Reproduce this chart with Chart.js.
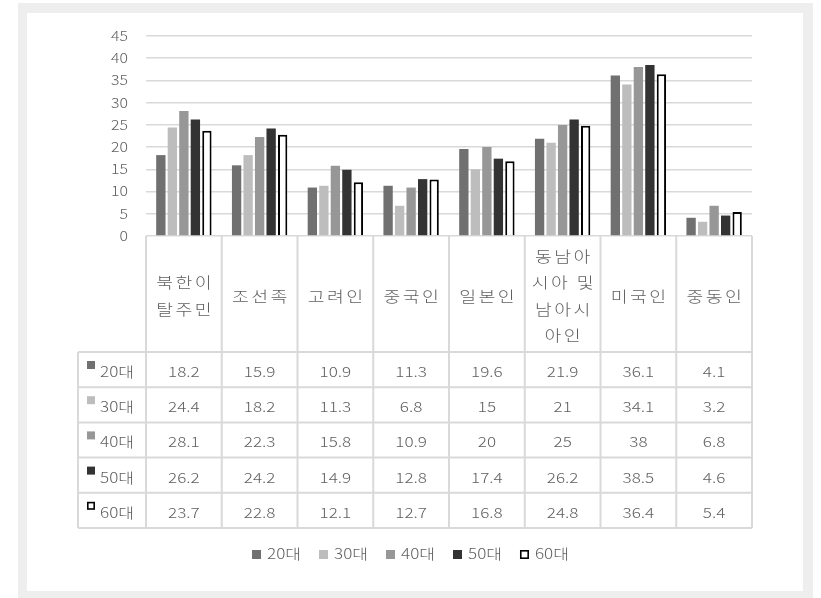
<!DOCTYPE html>
<html>
<head>
<meta charset="utf-8">
<script src="https://cdn.jsdelivr.net/npm/chart.js@4"></script>
<style>
  html, body { margin: 0; padding: 0; background: #fff; overflow: hidden; }
  #frame { position: absolute; left: 18px; top: 3px; width: 795px; height: 600px; background: #eeeeee; }
  #inner { position: absolute; left: 27px; top: 13px; width: 776px; height: 578px; background: #fff; }
  #wrap { position: absolute; left: 0; top: 0; width: 821px; height: 598px; }
</style>
</head>
<body>
<div id="frame"></div>
<div id="inner"></div>
<div id="wrap"><canvas id="ageChart" width="821" height="598"></canvas></div>
<script>
// Categories (multi-line labels as shown in the table header)
const categories = [
    ['북한이', '탈주민'],
    ['조선족'],
    ['고려인'],
    ['중국인'],
    ['일본인'],
    ['동남아', '시아 및', '남아시', '아인'],
    ['미국인'],
    ['중동인']
];

const seriesLabels = ['20대', '30대', '40대', '50대', '60대'];
const seriesColors = ['#707070', '#bdbdbd', '#979797', '#333333', '#ffffff'];

const age20 = [18.2, 15.9, 10.9, 11.3, 19.6, 21.9, 36.1, 4.1];
const age30 = [24.4, 18.2, 11.3, 6.8, 15, 21, 34.1, 3.2];
const age40 = [28.1, 22.3, 15.8, 10.9, 20, 25, 38, 6.8];
const age50 = [26.2, 24.2, 14.9, 12.8, 17.4, 26.2, 38.5, 4.6];
const age60 = [23.7, 22.8, 12.1, 12.7, 16.8, 24.8, 36.4, 5.4];

const seriesValues = [age20, age30, age40, age50, age60];

const yMin = 0;
const yMax = 45;
const yStep = 5;

const TEXT_COLOR = '#5f5f5f';
const LINE_COLOR = '#d9d9d9';
const KR_FONT = '"Noto Sans CJK KR", "Noto Sans", sans-serif';
const STRETCH = 1.22;

function drawText(ctx, text, x, y, align, size, spacing) {
    ctx.save();
    ctx.font = '300 ' + size + 'px ' + KR_FONT;
    ctx.fillStyle = TEXT_COLOR;
    ctx.textBaseline = 'middle';
    ctx.textAlign = align;
    if (spacing) ctx.letterSpacing = spacing + 'px';
    ctx.translate(x + (align === 'center' && spacing ? spacing * STRETCH / 2 : 0), y);
    ctx.scale(STRETCH, 1);
    ctx.fillText(text, 0, 0);
    ctx.restore();
}

function drawSwatch(ctx, i, x, y, size) {
    ctx.save();
    if (i === 4) {
        ctx.fillStyle = '#fff';
        ctx.fillRect(x, y, size, size);
        ctx.strokeStyle = '#000';
        ctx.lineWidth = 1.6;
        ctx.strokeRect(x + 0.8, y + 0.8, size - 1.6, size - 1.6);
    } else {
        ctx.fillStyle = seriesColors[i];
        ctx.fillRect(x, y, size, size);
    }
    ctx.restore();
}

// Plugin: y tick labels, data table under the axis, and legend
const dataTablePlugin = {
    id: 'dataTable',
    afterDraw(chart) {
        const { ctx, chartArea, scales } = chart;
        const x = scales.x, y = scales.y;

        // y axis labels
        y.ticks.forEach(t => {
            drawText(ctx, String(t.value), 128, y.getPixelForValue(t.value), 'right', 13);
        });

        const colW = (chartArea.right - chartArea.left) / categories.length;
        const headerTop = chartArea.bottom;
        const headerH = 116;
        const rowH = 35.2;
        const tableLeft = 78;
        const rowsTop = headerTop + headerH;
        const tableBottom = rowsTop + rowH * seriesLabels.length;

        // grid lines of the table
        ctx.save();
        ctx.strokeStyle = LINE_COLOR;
        ctx.lineWidth = 2;
        ctx.beginPath();
        for (let i = 0; i <= categories.length; i++) {
            const px = chartArea.left + i * colW;
            ctx.moveTo(px, headerTop);
            ctx.lineTo(px, tableBottom);
        }
        ctx.moveTo(tableLeft, rowsTop);
        ctx.lineTo(tableLeft, tableBottom);
        for (let r = 0; r <= seriesLabels.length; r++) {
            const py = rowsTop + r * rowH;
            ctx.moveTo(tableLeft, py);
            ctx.lineTo(chartArea.right, py);
        }
        ctx.stroke();
        ctx.restore();

        // header: category names
        const lineH = 26.5;
        categories.forEach((lines, i) => {
            const cx = x.getPixelForValue(i);
            const cy = headerTop + headerH / 2 + 2;
            lines.forEach((ln, k) => {
                drawText(ctx, ln, cx, cy + (k - (lines.length - 1) / 2) * lineH, 'center', 15, 2);
            });
        });

        // rows: series label + values
        seriesLabels.forEach((lab, r) => {
            const top = rowsTop + r * rowH;
            drawSwatch(ctx, r, 87, top + 9, 8);
            drawText(ctx, lab, 100, top + rowH / 2 + 2, 'left', 14);
            seriesValues[r].forEach((v, i) => {
                drawText(ctx, String(v), x.getPixelForValue(i), top + rowH / 2 + 2, 'center', 14);
            });
        });

        // legend
        ctx.save();
        ctx.font = '300 14px ' + KR_FONT;
        const widths = seriesLabels.map(l => 15 + ctx.measureText(l).width * STRETCH);
        ctx.restore();
        const gap = 18;
        const total = widths.reduce((a, b) => a + b, 0) + gap * (widths.length - 1);
        let lx = chart.width / 2 - total / 2;
        const ly = 554;
        seriesLabels.forEach((lab, i) => {
            drawSwatch(ctx, i, lx, ly - 4, 9);
            drawText(ctx, lab, lx + 15, ly, 'left', 14);
            lx += widths[i] + gap;
        });
    }
};

const datasets = seriesLabels.map((label, i) => ({
    label: label,
    data: seriesValues[i],
    backgroundColor: seriesColors[i],
    borderColor: i === 4 ? '#000000' : seriesColors[i],
    borderWidth: i === 4 ? 2 : 0,
    categoryPercentage: 0.76,
    barPercentage: 0.81
}));

new Chart(document.getElementById('ageChart'), {
    type: 'bar',
    data: {
        labels: categories.map(c => c.join(' ')),
        datasets: datasets
    },
    options: {
        responsive: false,
        animation: false,
        layout: {
            padding: { left: 146, right: 69, top: 36, bottom: 362 }
        },
        scales: {
            x: {
                display: false
            },
            y: {
                min: yMin,
                max: yMax,
                ticks: { stepSize: yStep, display: false },
                border: { display: false },
                grid: { color: LINE_COLOR, lineWidth: 1.5, drawTicks: false },
                afterFit(scale) { scale.width = 0; }
            }
        },
        plugins: {
            legend: { display: false },
            tooltip: { enabled: false }
        }
    },
    plugins: [dataTablePlugin]
});
</script>
</body>
</html>
